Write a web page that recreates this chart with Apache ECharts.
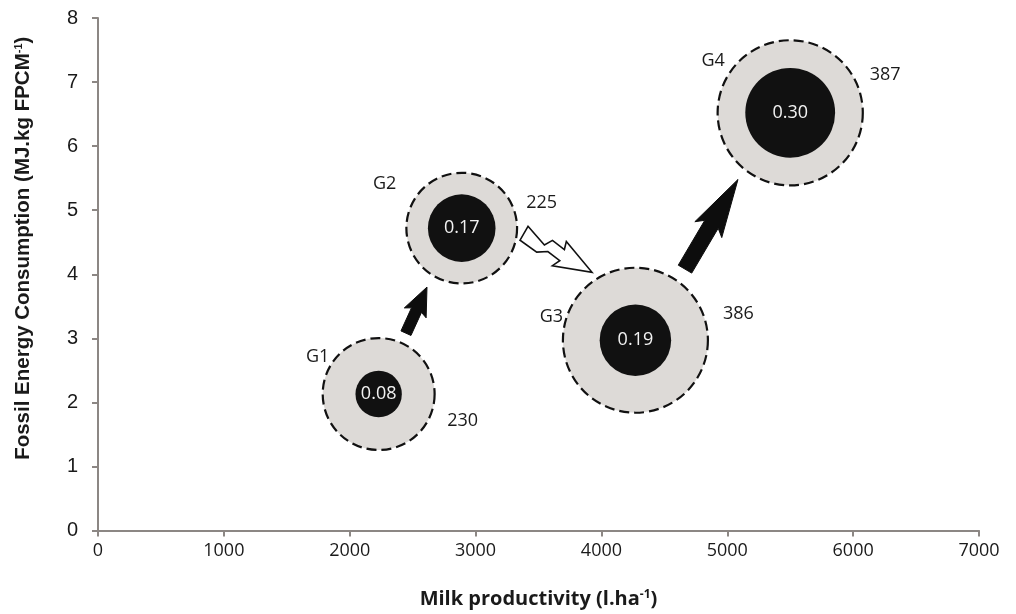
<!DOCTYPE html>
<html>
<head>
<meta charset="utf-8">
<script src="https://cdn.jsdelivr.net/npm/echarts@6/dist/echarts.min.js"></script>
<style>
  html, body { margin: 0; padding: 0; background: #fff; }
  #main { width: 1016px; height: 614px; }
</style>
</head>
<body>
<div id="main"></div>
<script>
// data
const groups = ['G1', 'G2', 'G3', 'G4'];
const milkProductivity = [2230, 2890, 4270, 5500];
const fossilEnergy = [2.13, 4.72, 2.97, 6.52];
const energyRatio = [0.08, 0.17, 0.19, 0.30];
const outerValues = [230, 225, 386, 387];

const xTicks = [0, 1000, 2000, 3000, 4000, 5000, 6000, 7000];
const yTicks = [0, 1, 2, 3, 4, 5, 6, 7, 8];

// arrows between groups (data coords)
const arrowFrom = [[2447, 3.08], [3385, 4.64], [4664, 4.08]];
const arrowTo = [[2614, 3.80], [3925, 4.03], [5085, 5.48]];
const arrowKind = ['solid', 'zigzag', 'solid'];

// label offsets (px) for group names and outer values
const nameOffset = [[-61, -37], [-77, -44], [-84, -23], [-77, -52]];
const valueOffset = [[84, 27], [80, -25], [103, -26], [95, -38]];

const chart = echarts.init(document.getElementById('main'));

const axisGray = '#8c8784';
const textColor = '#1a1a1a';

function pts(p1, d, n, L, list) {
  return list.map(function (q) {
    return [p1[0] + d[0] * q[0] * L + n[0] * q[1], p1[1] + d[1] * q[0] * L + n[1] * q[1]];
  });
}

function renderArrow(params, api) {
  const p1 = api.coord([api.value(0), api.value(1)]);
  const p2 = api.coord([api.value(2), api.value(3)]);
  const kind = arrowKind[params.dataIndex];
  const dx = p2[0] - p1[0], dy = p2[1] - p1[1];
  const L = Math.sqrt(dx * dx + dy * dy);
  const d = [dx / L, dy / L];
  const n = [-d[1], d[0]];
  let shape, style;
  if (kind === 'solid') {
    const w = Math.max(5.5, L * 0.075);
    const h = Math.max(12, L * 0.15);
    shape = pts(p1, d, n, L, [
      [0, -w], [0.5, -w], [0.44, -h], [1, 0], [0.44, h], [0.5, w], [0, w]
    ]);
    style = { fill: '#0d0d0d', stroke: '#0d0d0d', lineWidth: 1 };
  } else {
    shape = pts(p1, d, n, L, [
      [0, -8], [0.30, 0], [0.36, -8], [0.55, -6], [0.52, -14], [1, 0],
      [0.52, 14], [0.57, 6], [0.38, 4], [0.26, 10], [0, 8]
    ]);
    style = { fill: '#ffffff', stroke: '#111', lineWidth: 1.6 };
  }
  return { type: 'polygon', shape: { points: shape }, style: style };
}

const outerData = groups.map(function (g, i) {
  return {
    name: g,
    value: [milkProductivity[i], fossilEnergy[i], outerValues[i]],
    label: { offset: valueOffset[i] }
  };
});
const innerData = groups.map(function (g, i) {
  return { name: g, value: [milkProductivity[i], fossilEnergy[i], energyRatio[i]] };
});
const nameData = groups.map(function (g, i) {
  return { name: g, value: [milkProductivity[i], fossilEnergy[i]], label: { offset: nameOffset[i] } };
});

chart.setOption({
  animation: false,
  grid: { left: 98, right: 37, top: 18, bottom: 82 },
  xAxis: {
    type: 'value',
    min: 0, max: 7000, interval: 1000,
    name: 'Milk productivity (l.ha{sup|-1})',
    nameLocation: 'middle',
    nameGap: 58,
    nameTextStyle: {
      fontFamily: 'Open Sans', fontWeight: 'bold', fontSize: 20, color: textColor,
      rich: { sup: { fontFamily: 'Open Sans', fontWeight: 'bold', fontSize: 12, verticalAlign: 'top', padding: [0, 0, 9, 0], color: textColor } }
    },
    splitLine: { show: false },
    axisLine: { lineStyle: { color: axisGray, width: 2 } },
    axisTick: { length: 6, lineStyle: { color: axisGray, width: 2 } },
    axisLabel: {
      margin: 11, fontFamily: 'Open Sans', fontSize: 18, color: textColor,
      formatter: function (v) { return xTicks.indexOf(v) >= 0 ? String(v) : ''; }
    }
  },
  yAxis: {
    type: 'value',
    min: 0, max: 8, interval: 1,
    name: 'Fossil Energy Consumption (MJ.kg FPCM{sup|-1})',
    nameLocation: 'middle',
    nameGap: 64,
    nameTextStyle: {
      fontFamily: 'Liberation Sans', fontWeight: 'bold', fontSize: 20.5, color: textColor,
      padding: [0, 0, 0, 52],
      rich: { sup: { fontFamily: 'Liberation Sans', fontWeight: 'bold', fontSize: 11, padding: [0, 0, 9, 0], color: textColor } }
    },
    splitLine: { show: false },
    axisLine: { show: true, lineStyle: { color: axisGray, width: 2 } },
    axisTick: { show: true, length: 6, lineStyle: { color: axisGray, width: 2 } },
    axisLabel: {
      margin: 20, fontFamily: 'Liberation Sans', fontSize: 20, color: textColor,
      formatter: function (v) { return yTicks.indexOf(v) >= 0 ? String(v) : ''; }
    }
  },
  series: [
    {
      type: 'scatter',
      name: 'outer',
      data: outerData,
      symbol: 'circle',
      symbolSize: function (val) { return Math.sqrt(val[2]) * 7.38; },
      itemStyle: { color: '#dddad7', borderColor: '#111', borderWidth: 2.2, borderType: [10, 5], opacity: 1 },
      label: {
        show: true, position: 'inside',
        formatter: function (p) { return String(p.value[2]); },
        fontFamily: 'Open Sans', fontSize: 18, color: textColor
      },
      emphasis: { disabled: true },
      z: 2
    },
    {
      type: 'scatter',
      name: 'inner',
      data: innerData,
      symbol: 'circle',
      symbolSize: function (val) { return Math.sqrt(val[2]) * 164; },
      itemStyle: { color: '#111111', opacity: 1 },
      label: {
        show: true, position: 'inside',
        formatter: function (p) { return p.value[2].toFixed(2); },
        fontFamily: 'Open Sans', fontSize: 18, color: '#f2f2f2'
      },
      emphasis: { disabled: true },
      z: 3
    },
    {
      type: 'scatter',
      name: 'names',
      data: nameData,
      symbolSize: 0,
      itemStyle: { opacity: 1 },
      label: {
        show: true, position: 'inside',
        formatter: '{b}',
        fontFamily: 'Open Sans', fontSize: 18, color: textColor
      },
      emphasis: { disabled: true },
      z: 4
    },
    {
      type: 'custom',
      name: 'arrows',
      renderItem: renderArrow,
      data: arrowFrom.map(function (f, i) { return [f[0], f[1], arrowTo[i][0], arrowTo[i][1]]; }),
      encode: { x: [0, 2], y: [1, 3] },
      silent: true,
      z: 5
    }
  ]
});
</script>
</body>
</html>
